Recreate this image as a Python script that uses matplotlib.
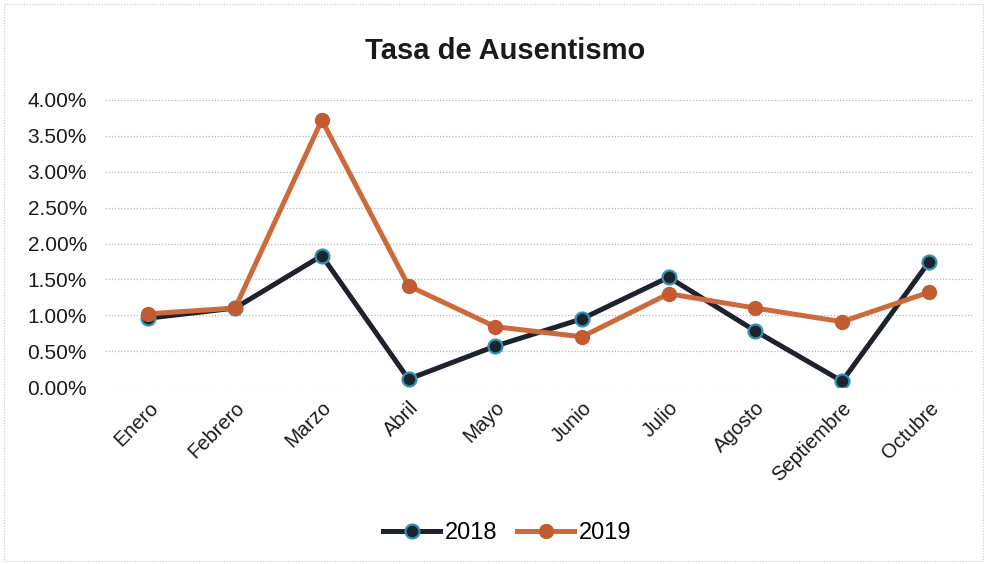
import matplotlib.pyplot as plt
from matplotlib.ticker import PercentFormatter
from matplotlib.patches import Rectangle

plt.rcParams['font.family'] = ['Liberation Sans', 'DejaVu Sans']

meses = ["Enero", "Febrero", "Marzo", "Abril", "Mayo", "Junio",
         "Julio", "Agosto", "Septiembre", "Octubre"]
tasa_2018 = [0.96, 1.10, 1.83, 0.11, 0.57, 0.95, 1.53, 0.78, 0.08, 1.74]
tasa_2019 = [1.02, 1.10, 3.72, 1.41, 0.84, 0.70, 1.30, 1.10, 0.91, 1.32]

fig = plt.figure(figsize=(9.87, 5.64), dpi=100)
ax = fig.add_axes([0.1064, 0.3138, 0.8786, 0.5089])

x = range(len(meses))
ax.plot(x, tasa_2018, color="#1d232c", lw=3.6, marker="o", ms=10,
        mfc="#1d232c", mec="#2f93b5", mew=1.6, label="2018", zorder=3)
ax.plot(x, tasa_2019, color="#cd6a3c", lw=3.6, marker="o", ms=10,
        mfc="#c25b31", mec="#c25b31", label="2019", zorder=4)

ax.set_xlim(-0.5, len(meses) - 0.5)
ax.set_ylim(0, 4)
ax.set_yticks([0, 0.5, 1, 1.5, 2, 2.5, 3, 3.5, 4])
ax.yaxis.set_major_formatter(PercentFormatter(decimals=2))
ax.set_xticks(list(x))
ax.set_xticklabels(meses, rotation=45, ha="right", rotation_mode="anchor")
ax.tick_params(axis="both", length=0, labelsize=15, colors="#1a1a1a")
ax.tick_params(axis="x", pad=8, labelsize=14.5)
ax.tick_params(axis="y", pad=13)
ax.grid(axis="y", color="#b8b8b8", ls=(0, (1, 1.5)), lw=0.9)
for s in ax.spines.values():
    s.set_visible(False)

fig.text(0.512, 0.91, "Tasa de Ausentismo", ha="center", va="center",
         fontsize=21, fontweight="bold", color="#1a1a1a")

fig.legend(loc="center", bbox_to_anchor=(0.514, 0.055), ncol=2, frameon=False,
           fontsize=17, handlelength=2.4, columnspacing=0.85, handletextpad=0.2)

fig.patches.append(Rectangle((0.004, 0.005), 0.992, 0.988, transform=fig.transFigure,
                             fill=False, ec="#c8c8c8", lw=0.8, ls=(0, (1, 1.5))))

fig.savefig("out.png", dpi=100)
